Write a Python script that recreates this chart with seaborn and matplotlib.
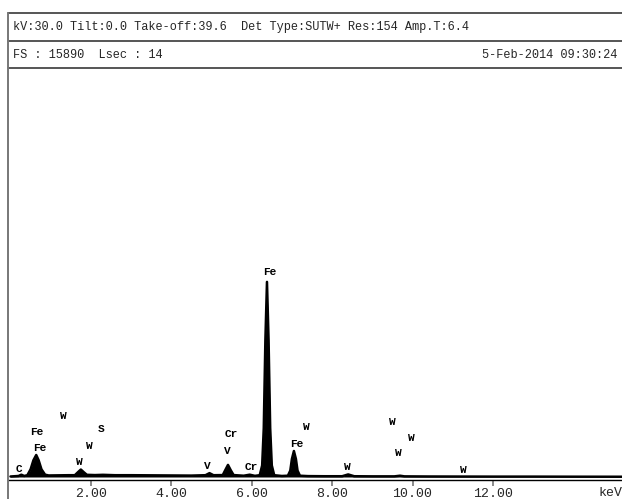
import matplotlib
matplotlib.use("Agg")
import matplotlib.pyplot as plt
from matplotlib.lines import Line2D
import seaborn as sns
import pandas as pd

sns.set_style("white")
plt.rcParams['font.family'] = ['Liberation Mono', 'DejaVu Sans Mono']

# spectrum (keV, counts)
energy = [0.00, 0.10, 0.20, 0.27, 0.34, 0.42, 0.50, 0.57, 0.64, 0.70, 0.77, 0.86,
          0.95, 1.20, 1.45, 1.60, 1.68, 1.75, 1.82, 1.90, 2.10, 2.30, 2.60, 3.00,
          3.50, 4.00, 4.50, 4.85, 4.95, 5.05, 5.28, 5.34, 5.41, 5.48, 5.55, 5.80,
          5.95, 6.08, 6.20, 6.26, 6.30, 6.34, 6.38, 6.42, 6.46, 6.50, 6.56, 6.75,
          6.90, 6.96, 7.00, 7.05, 7.10, 7.14, 7.20, 7.40, 7.80, 8.25, 8.40, 8.55,
          9.00, 9.55, 9.69, 9.80, 10.40, 11.00, 12.00, 13.00, 14.00, 15.30]
counts = [20, 30, 40, 90, 40, 70, 300, 650, 855, 650, 300, 90,
          60, 65, 70, 70, 190, 290, 190, 85, 75, 85, 70, 70,
          65, 60, 55, 70, 150, 70, 75, 260, 470, 260, 75, 50,
          90, 45, 70, 450, 1900, 5300, 7580, 5300, 1900, 450, 70, 40,
          50, 250, 700, 1010, 700, 250, 50, 35, 30, 30, 100, 30,
          25, 25, 50, 25, 20, 18, 15, 15, 12, 10]

# peak labels (text, keV, counts)
lbl_text = ["C", "Fe", "Fe", "W", "S", "W", "W", "V", "Cr", "V", "Cr",
            "Fe", "W", "Fe", "W", "W", "W", "W", "W"]
lbl_kev = [0.21, 0.66, 0.73, 1.31, 2.25, 1.95, 1.70, 4.89, 5.49, 5.39, 5.98,
           6.46, 7.35, 7.13, 8.37, 9.49, 9.96, 9.64, 11.26]
lbl_cnt = [320, 1730, 1130, 2370, 1860, 1200, 580, 430, 1670, 1010, 390,
           7960, 1940, 1280, 390, 2140, 1520, 930, 270]

tick_kev = [2, 4, 6, 8, 10, 12]

header1 = "kV:30.0 Tilt:0.0 Take-off:39.6  Det Type:SUTW+ Res:154 Amp.T:6.4"
header2_left = "FS : 15890  Lsec : 14"
header2_right = "5-Feb-2014 09:30:24"

df = pd.DataFrame({"keV": energy, "counts": counts})

W, H = 622, 499
fig = plt.figure(figsize=(W / 100, H / 100), dpi=100)

def fx(px):
    return px / W

def fy(py):
    return 1 - py / H

# plot area in pixels
left, right, top, bottom = 8, 622, 68, 480
ax = fig.add_axes([fx(left), fy(bottom), fx(right - left), (bottom - top) / H])

px_per_kev = 40.2
zero_px = 10.5
cnt_per_px = 38.85
ax.set_xlim((left - zero_px) / px_per_kev, (right - zero_px) / px_per_kev)
ax.set_ylim(-3 * cnt_per_px, (477 - top) * cnt_per_px)

ax.fill_between(df["keV"], 0, df["counts"], color="black", lw=0)
sns.lineplot(data=df, x="keV", y="counts", ax=ax, color="black", lw=1.8)

for t, k, c in zip(lbl_text, lbl_kev, lbl_cnt):
    ax.text(k, c, t, ha="center", va="center", fontsize=8, color="black",
            fontweight="bold")

for s in ["top", "left", "right"]:
    ax.spines[s].set_visible(False)
ax.spines["bottom"].set_color("black")
ax.spines["bottom"].set_linewidth(1.0)
ax.set_xticks(tick_kev)
ax.set_xticklabels([f"{t:.2f}" for t in tick_kev], fontsize=9.5)
ax.tick_params(axis="x", direction="out", length=4, width=1.2, color="#777777",
               pad=1.5, bottom=True)
ax.set_yticks([])
ax.set_xlabel("")
ax.set_ylabel("")

# header frame
for y in [13, 41, 68]:
    fig.add_artist(Line2D([fx(8), 1], [fy(y), fy(y)], color="#555555", lw=1.4))
fig.add_artist(Line2D([fx(8), fx(8)], [fy(13), 0], color="#777777", lw=1.4))

fig.text(fx(13), fy(27), header1, ha="left", va="center", fontsize=8.6)
fig.text(fx(13), fy(55), header2_left, ha="left", va="center", fontsize=8.6)
fig.text(fx(617), fy(55), header2_right, ha="right", va="center", fontsize=8.6)
fig.text(fx(598), fy(493), "keV", ha="left", va="center", fontsize=9.5)

fig.savefig("out.png", dpi=100)
